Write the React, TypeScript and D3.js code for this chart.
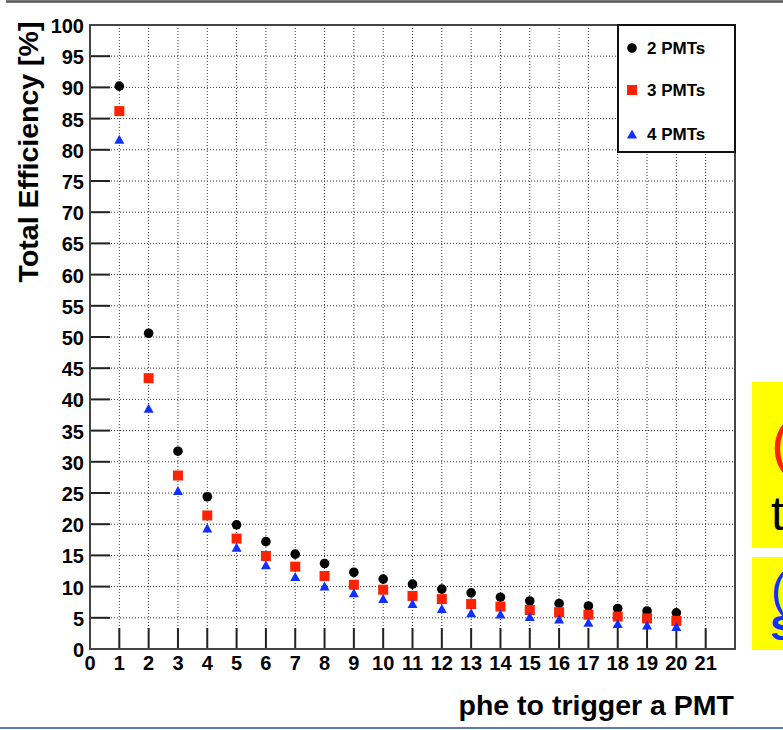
import * as d3 from "d3";
import { useEffect, useRef } from "react";

// phe threshold per PMT
const phe = [1, 2, 3, 4, 5, 6, 7, 8, 9, 10, 11, 12, 13, 14, 15, 16, 17, 18, 19, 20];

// total efficiency [%] for each coincidence requirement
const eff2 = [90.2, 50.6, 31.7, 24.4, 19.9, 17.2, 15.2, 13.7, 12.3, 11.2, 10.4, 9.6, 9.0, 8.3, 7.7, 7.3, 6.9, 6.5, 6.1, 5.8];
const eff3 = [86.2, 43.4, 27.8, 21.4, 17.7, 14.9, 13.2, 11.7, 10.3, 9.5, 8.5, 8.0, 7.2, 6.8, 6.25, 5.9, 5.5, 5.2, 4.9, 4.5];
const eff4 = [81.7, 38.6, 25.4, 19.4, 16.3, 13.5, 11.6, 10.1, 9.0, 8.1, 7.3, 6.5, 5.8, 5.6, 5.2, 4.8, 4.3, 4.1, 3.85, 3.6];

const seriesNames = ["2 PMTs", "3 PMTs", "4 PMTs"];
const xTicks = [0, 1, 2, 3, 4, 5, 6, 7, 8, 9, 10, 11, 12, 13, 14, 15, 16, 17, 18, 19, 20, 21];
const yTicks = [0, 5, 10, 15, 20, 25, 30, 35, 40, 45, 50, 55, 60, 65, 70, 75, 80, 85, 90, 95, 100];

const App = () => {
    const ref = useRef(null);

    const width = 783;
    const height = 730;
    const frame = { left: 90, right: 735, top: 25, bottom: 649 };
    const font = "'Liberation Sans', Arial, sans-serif";

    useEffect(() => {
        const svg = d3.select(ref.current);
        svg.selectAll("*").remove();

        const x = d3.scaleLinear().domain([0, 22]).range([frame.left, frame.right]);
        const y = d3.scaleLinear().domain([0, 100]).range([frame.bottom, frame.top]);

        // slide decorations
        svg.append("rect").attr("x", 0).attr("y", 0).attr("width", width).attr("height", height).style("fill", "#fff");
        svg.append("line").attr("x1", 6).attr("x2", width).attr("y1", 1.5).attr("y2", 1.5)
            .style("stroke", "#555").style("stroke-width", 2.5);
        svg.append("line").attr("x1", 0).attr("x2", width).attr("y1", 728).attr("y2", 728)
            .style("stroke", "#5a7db5").style("stroke-width", 2);

        // yellow boxes at right edge (cut off slide text)
        svg.append("rect").attr("x", 752).attr("y", 382).attr("width", 40).attr("height", 166).style("fill", "#ffff00");
        svg.append("rect").attr("x", 752).attr("y", 557).attr("width", 40).attr("height", 93).style("fill", "#ffff00");
        svg.append("text").attr("x", 771).attr("y", 464).style("font-family", font).style("font-size", "60px")
            .style("fill", "#ff2200").text("(");
        svg.append("text").attr("x", 771).attr("y", 530).style("font-family", font).style("font-size", "48px")
            .style("fill", "#000").text("t");
        svg.append("text").attr("x", 771).attr("y", 606).style("font-family", font).style("font-size", "46px")
            .style("fill", "#1030ff").text("(");
        svg.append("text").attr("x", 770).attr("y", 640).style("font-family", font).style("font-size", "44px")
            .style("font-weight", "bold").style("fill", "#1030ff").text("s");

        // grid
        const grid = svg.append("g").style("stroke", "#333").style("stroke-width", 1).style("stroke-dasharray", "1,2");
        xTicks.filter(d => d > 0).forEach(d => {
            grid.append("line").attr("x1", x(d)).attr("x2", x(d)).attr("y1", frame.top).attr("y2", frame.bottom);
        });
        yTicks.filter(d => d > 0 && d < 100).forEach(d => {
            grid.append("line").attr("x1", frame.left).attr("x2", frame.right).attr("y1", y(d)).attr("y2", y(d));
        });

        // ticks
        const ticks = svg.append("g").style("stroke", "#222").style("stroke-width", 2);
        xTicks.filter(d => d > 0).forEach(d => {
            ticks.append("line").attr("x1", x(d)).attr("x2", x(d)).attr("y1", frame.bottom).attr("y2", frame.bottom - 21);
        });
        yTicks.filter(d => d > 0 && d < 100).forEach(d => {
            ticks.append("line").attr("x1", frame.left).attr("x2", frame.left + 20).attr("y1", y(d)).attr("y2", y(d));
        });

        // frame
        svg.append("rect").attr("x", frame.left).attr("y", frame.top)
            .attr("width", frame.right - frame.left).attr("height", frame.bottom - frame.top)
            .style("fill", "none").style("stroke", "#444").style("stroke-width", 2);

        // tick labels
        svg.append("g").selectAll("text").data(xTicks).enter().append("text")
            .attr("x", d => x(d)).attr("y", 670)
            .attr("text-anchor", "middle")
            .style("font-family", font).style("font-weight", "bold").style("font-size", "20px")
            .text(d => d);
        svg.append("g").selectAll("text").data(yTicks).enter().append("text")
            .attr("x", 84).attr("y", d => y(d) + 8)
            .attr("text-anchor", "end")
            .style("font-family", font).style("font-weight", "bold").style("font-size", "20px")
            .text(d => d);

        // axis titles
        svg.append("text").attr("x", 734).attr("y", 715).attr("text-anchor", "end")
            .style("font-family", font).style("font-weight", "bold").style("font-size", "28.5px")
            .text("phe to trigger a PMT");
        svg.append("text").attr("transform", "translate(38,152) rotate(-90)").attr("text-anchor", "middle")
            .style("font-family", font).style("font-weight", "bold").style("font-size", "28.5px")
            .text("Total Efficiency [%]");

        // markers
        const circle = (g, cx, cy) => g.append("circle").attr("cx", cx).attr("cy", cy).attr("r", 4.8).style("fill", "#000");
        const square = (g, cx, cy) => g.append("rect").attr("x", cx - 5).attr("y", cy - 5)
            .attr("width", 10).attr("height", 10).style("fill", "#ff2200");
        const triangle = (g, cx, cy) => g.append("path")
            .attr("d", `M${cx - 5},${cy + 4.5}L${cx + 5},${cy + 4.5}L${cx},${cy - 4.5}Z`).style("fill", "#1030ff");

        const pts = svg.append("g");
        phe.forEach((p, i) => circle(pts, x(p), y(eff2[i])));
        phe.forEach((p, i) => square(pts, x(p), y(eff3[i])));
        phe.forEach((p, i) => triangle(pts, x(p), y(eff4[i])));

        // legend
        const lg = svg.append("g");
        lg.append("rect").attr("x", 618).attr("y", frame.top).attr("width", frame.right - 618).attr("height", 127)
            .style("fill", "#fff").style("stroke", "#111").style("stroke-width", 2);
        const rowsY = [48, 90, 134];
        const drawers = [circle, square, triangle];
        seriesNames.forEach((name, i) => {
            drawers[i](lg, 632, rowsY[i]);
            lg.append("text").attr("x", 647).attr("y", rowsY[i] + 6)
                .style("font-family", font).style("font-weight", "bold").style("font-size", "17px")
                .text(name);
        });
    }, []);

    return (
        <svg
            ref={ref}
            width={width}
            height={height}
            style={{ position: "absolute", left: 0, top: 0, display: "block" }}
        ></svg>
    );
};

export default App;
